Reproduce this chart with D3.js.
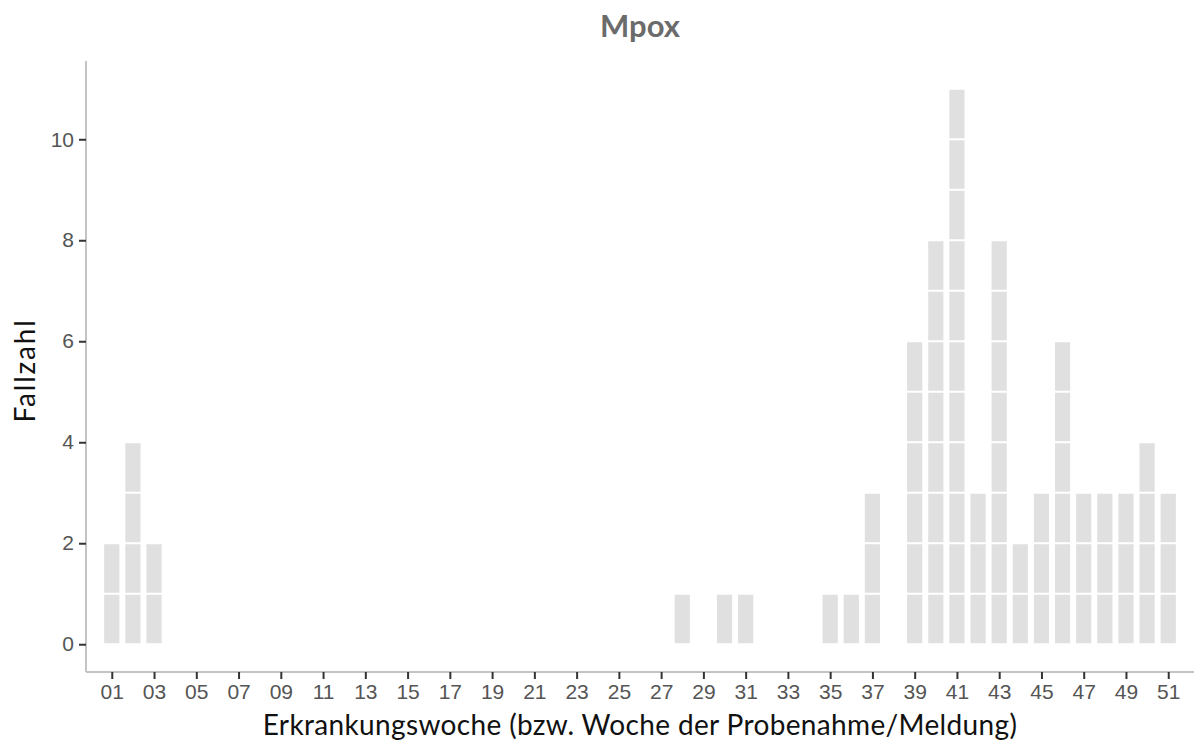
<!DOCTYPE html>
<html>
<head>
<meta charset="utf-8">
<script src="https://cdn.jsdelivr.net/npm/d3@7"></script>
<style>
  body { margin: 0; background: #fff; }
  svg { display: block; font-family: Lato, "Open Sans", sans-serif; }
</style>
</head>
<body>
<div id="chart"></div>
<script>
// Mpox cases per week (only weeks with cases)
const weeks = [1, 2, 3, 28, 30, 31, 35, 36, 37, 39, 40, 41, 42, 43, 44, 45, 46, 47, 48, 49, 50, 51];
const cases = [2, 4, 2, 1, 1, 1, 1, 1, 3, 6, 8, 11, 3, 8, 2, 3, 6, 3, 3, 3, 4, 3];
const xTickWeeks = [1, 3, 5, 7, 9, 11, 13, 15, 17, 19, 21, 23, 25, 27, 29, 31, 33, 35, 37, 39, 41, 43, 45, 47, 49, 51];
const yTicks = [0, 2, 4, 6, 8, 10];

const W = 1194, H = 747;
const panel = { left: 86, right: 1194, top: 61, bottom: 672 };

const svg = d3.select("#chart").append("svg")
    .attr("width", W)
    .attr("height", H);

const x = d3.scaleLinear().domain([-0.22, 52.22]).range([panel.left, panel.right]);
const y = d3.scaleLinear().domain([-0.55, 11.55]).range([panel.bottom, panel.top]);

const barW = 0.72 * (x(1) - x(0));

// one block per case, stacked
const blocks = [];
weeks.forEach((w, i) => {
    d3.range(cases[i]).forEach(k => blocks.push({ week: w, k: k }));
});

svg.append("g").selectAll("rect")
    .data(blocks)
    .enter()
    .append("rect")
    .attr("x", d => x(d.week) - barW / 2)
    .attr("y", d => y(d.k + 1) + 1)
    .attr("width", barW)
    .attr("height", d => y(d.k) - y(d.k + 1) - 2)
    .attr("fill", "#e0e0e0");

// Y axis
const yAxis = svg.append("g")
    .attr("transform", `translate(${panel.left},0)`)
    .call(d3.axisLeft(y).tickValues(yTicks).tickSize(7).tickPadding(5));
yAxis.select(".domain").attr("stroke", "#c4c4c4").attr("stroke-width", 2)
    .attr("d", `M0,${panel.top}V${panel.bottom}`);
yAxis.selectAll(".tick line").attr("stroke", "#333").attr("stroke-width", 2);
yAxis.selectAll(".tick text").attr("fill", "#555").style("font-size", "21px");

// X axis
const xAxis = svg.append("g")
    .attr("transform", `translate(0,${panel.bottom})`)
    .call(d3.axisBottom(x).tickValues(xTickWeeks).tickFormat(d3.format("02d")).tickSize(7).tickPadding(5));
xAxis.select(".domain").attr("stroke", "#c4c4c4").attr("stroke-width", 2)
    .attr("d", `M${panel.left},0H${panel.right}`);
xAxis.selectAll(".tick line").attr("stroke", "#333").attr("stroke-width", 2);
xAxis.selectAll(".tick text").attr("fill", "#555").style("font-size", "21px");

// Title
svg.append("text")
    .attr("x", 640)
    .attr("y", 37)
    .attr("text-anchor", "middle")
    .style("font-size", "31px")
    .style("font-weight", "bold")
    .attr("fill", "#6b6b6b")
    .text("Mpox");

// Axis titles
svg.append("text")
    .attr("x", (panel.left + panel.right) / 2)
    .attr("y", 735)
    .attr("text-anchor", "middle")
    .style("font-size", "28px")
    .style("letter-spacing", "0.35px")
    .attr("fill", "#111")
    .text("Erkrankungswoche (bzw. Woche der Probenahme/Meldung)");

svg.append("text")
    .attr("transform", `translate(35,${(panel.top + panel.bottom) / 2 + 4}) rotate(-90)`)
    .attr("text-anchor", "middle")
    .style("font-size", "28px")
    .style("letter-spacing", "1.8px")
    .attr("fill", "#111")
    .text("Fallzahl");
</script>
</body>
</html>
